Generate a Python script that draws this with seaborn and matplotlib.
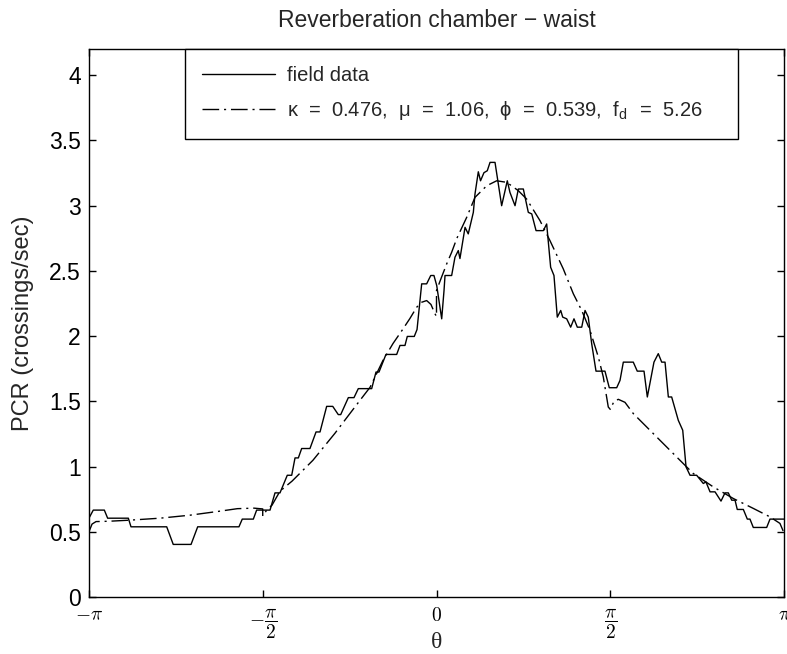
import numpy as np
import pandas as pd
import matplotlib
matplotlib.use("Agg")
import matplotlib.pyplot as plt
import seaborn as sns

# field data (theta in rad, PCR in crossings/sec)
theta_field = [-3.142, -3.103, -3.003, -2.973, -2.786, -2.762, -2.439, -2.380, -2.219, -2.159,
               -1.786, -1.756, -1.656, -1.626, -1.505, -1.460, -1.415, -1.349, -1.309, -1.279,
               -1.249, -1.219, -1.144, -1.089, -1.053, -0.993, -0.938, -0.888, -0.866, -0.797,
               -0.746, -0.707, -0.586, -0.547, -0.520, -0.457, -0.360, -0.330, -0.285, -0.264,
               -0.201, -0.176, -0.134, -0.089, -0.052, -0.023, 0.002, 0.047, 0.068, 0.077,
               0.137, 0.167, 0.197, 0.212, 0.258, 0.287, 0.333, 0.348, 0.378, 0.398,
               0.429, 0.459, 0.484, 0.529, 0.589, 0.640, 0.664, 0.710, 0.740, 0.785,
               0.830, 0.861, 0.900, 0.966, 0.996, 1.032, 1.062, 1.092, 1.123, 1.141,
               1.177, 1.213, 1.243, 1.273, 1.313, 1.343, 1.372, 1.403, 1.442, 1.523,
               1.562, 1.629, 1.659, 1.689, 1.779, 1.815, 1.876, 1.906, 1.966, 2.005,
               2.036, 2.066, 2.096, 2.126, 2.186, 2.226, 2.256, 2.292, 2.352, 2.412,
               2.436, 2.473, 2.518, 2.572, 2.608, 2.638, 2.669, 2.699, 2.719, 2.774,
               2.810, 2.834, 2.864, 2.985, 3.015, 3.142]
pcr_field = [0.604, 0.666, 0.666, 0.604, 0.604, 0.538, 0.538, 0.403, 0.403, 0.538,
             0.538, 0.597, 0.597, 0.666, 0.666, 0.798, 0.798, 0.933, 0.933, 1.066,
             1.066, 1.138, 1.138, 1.265, 1.265, 1.461, 1.461, 1.398, 1.398, 1.528,
             1.528, 1.597, 1.597, 1.724, 1.724, 1.859, 1.859, 1.928, 1.928, 1.997,
             1.997, 2.050, 2.400, 2.400, 2.464, 2.464, 2.387, 2.132, 2.349, 2.464,
             2.464, 2.604, 2.655, 2.594, 2.833, 2.783, 2.948, 3.089, 3.259, 3.190,
             3.252, 3.267, 3.331, 3.331, 2.999, 3.190, 3.101, 2.999, 3.127, 3.127,
             2.948, 2.936, 2.808, 2.808, 2.859, 2.527, 2.464, 2.145, 2.196, 2.145,
             2.132, 2.068, 2.132, 2.068, 2.068, 2.196, 2.145, 1.941, 1.731, 1.731,
             1.604, 1.604, 1.660, 1.800, 1.800, 1.731, 1.731, 1.533, 1.800, 1.865,
             1.800, 1.800, 1.533, 1.533, 1.354, 1.278, 0.997, 0.933, 0.933, 0.870,
             0.882, 0.806, 0.806, 0.735, 0.798, 0.798, 0.742, 0.742, 0.671, 0.671,
             0.597, 0.597, 0.533, 0.533, 0.597, 0.597]

# fitted model, one piece per quadrant
theta_fit = [-3.142, -3.114, -3.078, -2.952, -2.771, -2.500, -2.229, -1.957, -1.800, -1.650, -1.571,
             -1.571, -1.535, -1.487, -1.415, -1.306, -1.117, -0.918, -0.809, -0.692, -0.601,
             -0.484, -0.393, -0.312, -0.240, -0.179, -0.134, -0.089, -0.050, -0.014, 0.000,
             0.000, 0.041, 0.092, 0.137, 0.183, 0.273, 0.348, 0.454, 0.544, 0.635,
             0.740, 0.815, 0.936, 1.026, 1.146, 1.237, 1.313, 1.388, 1.463, 1.508, 1.553, 1.571,
             1.571, 1.605, 1.644, 1.704, 1.779, 1.991, 2.201, 2.322, 2.502, 2.683,
             2.864, 3.015, 3.105, 3.142]
pcr_fit = [0.500, 0.559, 0.578, 0.581, 0.589, 0.604, 0.627, 0.658, 0.677, 0.681, 0.675,
           0.620, 0.666, 0.704, 0.811, 0.888, 1.048, 1.255, 1.377, 1.507, 1.607,
           1.813, 1.943, 2.043, 2.135, 2.221, 2.259, 2.272, 2.242, 2.171, 2.150,
           2.349, 2.441, 2.553, 2.642, 2.747, 2.910, 3.063, 3.152, 3.190, 3.178,
           3.114, 3.050, 2.884, 2.731, 2.515, 2.324, 2.196, 2.043, 1.839, 1.686, 1.456, 1.438,
           1.438, 1.500, 1.515, 1.492, 1.406, 1.226, 1.048, 0.946, 0.844, 0.755,
           0.679, 0.614, 0.564, 0.490]

fit_label = "κ  =  0.476,  μ  =  1.06,  ϕ  =  0.539,  f$_\\mathregular{d}$  =  5.26"
xtick_labels = [r"$-\pi$", r"$-\dfrac{\pi}{2}$", r"$0$", r"$\dfrac{\pi}{2}$", r"$\pi$"]

sns.set_theme(style="ticks")
plt.rcParams['font.family'] = ['Liberation Sans', 'DejaVu Sans']
plt.rcParams['mathtext.fontset'] = 'cm'

field = pd.DataFrame({"theta": theta_field, "pcr": pcr_field})
fit = pd.DataFrame({"theta": theta_fit, "pcr": pcr_fit})

fig = plt.figure(figsize=(7.87, 6.54), dpi=100)
ax = fig.add_axes([89 / 787, 1 - 597 / 654, 695 / 787, 548 / 654])

sns.lineplot(data=field, x="theta", y="pcr", ax=ax, color="black", linewidth=1.0,
             sort=False, estimator=None, label="field data")
sns.lineplot(data=fit, x="theta", y="pcr", ax=ax, color="black", linewidth=1.0,
             sort=False, estimator=None, label=fit_label, linestyle=(0, (12, 3.5, 1.5, 3.5)))

ax.set_xlim(-np.pi, np.pi)
ax.set_ylim(0, 4.2)
ax.set_yticks(np.arange(0, 4.01, 0.5))
ax.set_yticklabels(["0", "0.5", "1", "1.5", "2", "2.5", "3", "3.5", "4"])
ax.set_xticks([-np.pi, -np.pi / 2, 0, np.pi / 2, np.pi])
ax.set_xticklabels(xtick_labels, fontsize=14)

ax.tick_params(direction="in", length=5, width=1, top=True, right=True,
               labelsize=16.5, colors="black", pad=6)
ax.tick_params(axis="x", labelsize=14, pad=7.5)
for s in ax.spines.values():
    s.set_linewidth(1.0)
    s.set_color("black")

ax.set_xlabel("θ", fontsize=17, family=['Liberation Serif', 'DejaVu Serif'])
ax.xaxis.set_label_coords(0.5, -0.064)
ax.set_ylabel("PCR (crossings/sec)", fontsize=17, labelpad=11)
ax.set_title("Reverberation chamber − waist", fontsize=16.5, pad=16)

leg = ax.legend(loc="upper left", bbox_to_anchor=(96 / 695, 1.0, 553 / 695, 0), mode="expand",
                borderaxespad=0, fontsize=14.5, frameon=True, fancybox=False, framealpha=1,
                edgecolor="black", handlelength=3.6, handletextpad=0.6, borderpad=0.85,
                labelspacing=0.7)
leg.get_frame().set_linewidth(1.0)

fig.savefig("out.png", dpi=100)
